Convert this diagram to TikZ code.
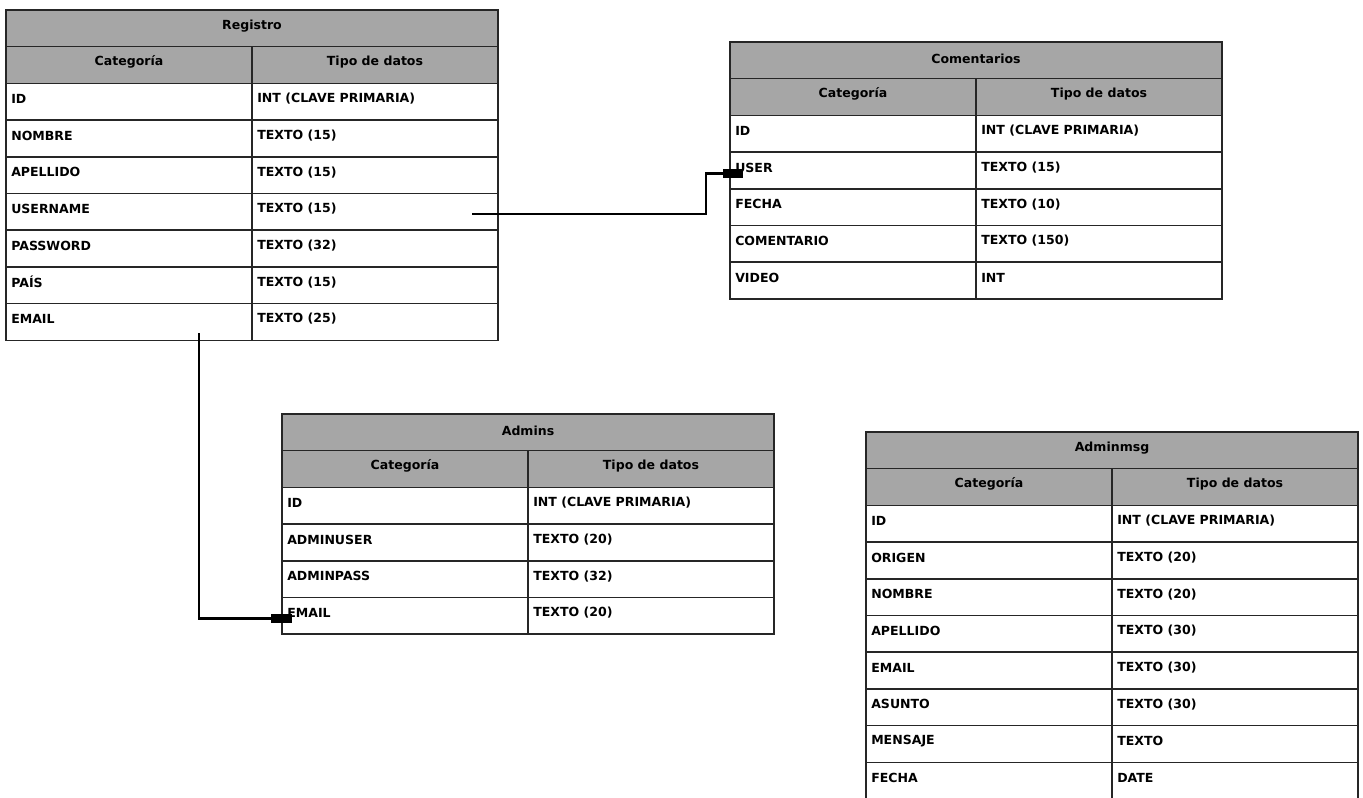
\documentclass[tikz,border=0pt]{standalone}
\usepackage{fontspec}
\setmainfont{DejaVu Sans}
\usetikzlibrary{calc}
\definecolor{cabgris}{HTML}{A6A6A6}
\tikzset{
  borde/.style={draw=black!85, line width=1.1pt},
  texto/.style={inner sep=0pt, font=\fontsize{9.4}{11}\selectfont\bfseries},
  campo/.style={texto, anchor=west},
  conector/.style={line width=2.2pt, black},
}
\newcommand{\tw}{492}
\newcommand{\rh}{36.7}
% tabla: nombre, origen, filas, titulo, lista campo/tipo
\newcommand{\tabla}[5]{%
  \begin{scope}[shift={(#2)}]
  \fill[cabgris] (0,0) rectangle (\tw,2*\rh);
  \draw[borde] (0,0) rectangle (\tw,{(#3+2)*\rh});
  \draw[borde] (0,\rh) -- (\tw,\rh);
  \draw[borde] (0,2*\rh) -- (\tw,2*\rh);
  \draw[borde] (\tw/2,\rh) -- (\tw/2,{(#3+2)*\rh});
  \node[texto] (#1) at (\tw/2,0.5*\rh-2) {#4};
  \node[texto] (#1-cat) at (\tw/4,1.5*\rh-3) {Categoría};
  \node[texto] (#1-tip) at (3*\tw/4,1.5*\rh-3) {Tipo de datos};
  \foreach \campo/\tipo [count=\i] in {#5} {
    \node[campo] (#1-c\i) at (5,{(\i+1.5)*\rh-3}) {\campo};
    \node[campo] (#1-t\i) at (\tw/2+5,{(\i+1.5)*\rh-3}) {\tipo};
    \coordinate (#1-l\i) at (0,{(\i+1.5)*\rh+3});
    \draw[borde] (0,{(\i+2)*\rh}) -- (\tw,{(\i+2)*\rh});
  }
  \end{scope}}
\begin{document}
\begin{tikzpicture}[x=0.75pt, y=-0.75pt]
\useasboundingbox (0,0) rectangle (1363,797);

\tabla{reg}{6,10}{7}{Registro}{ID/INT (CLAVE PRIMARIA), NOMBRE/TEXTO (15),
  APELLIDO/TEXTO (15), USERNAME/TEXTO (15), PASSWORD/TEXTO (32),
  PAÍS/TEXTO (15), EMAIL/TEXTO (25)}
\tabla{com}{730,42}{5}{Comentarios}{ID/INT (CLAVE PRIMARIA), USER/TEXTO (15),
  FECHA/TEXTO (10), COMENTARIO/TEXTO (150), VIDEO/INT}
\tabla{adm}{282,414}{4}{Admins}{ID/INT (CLAVE PRIMARIA), ADMINUSER/TEXTO (20),
  ADMINPASS/TEXTO (32), EMAIL/TEXTO (20)}
\tabla{msg}{866,432}{8}{Adminmsg}{ID/INT (CLAVE PRIMARIA), ORIGEN/TEXTO (20),
  NOMBRE/TEXTO (20), APELLIDO/TEXTO (30), EMAIL/TEXTO (30),
  ASUNTO/TEXTO (30), MENSAJE/TEXTO, FECHA/DATE}

% relaciones
\coordinate (reg-sal1) at (472,214);
\coordinate (reg-sal2) at (199,333);
\draw[conector] (reg-sal1) -- ++(234,0) |- (com-l2);
\fill (com-l2) ++(-7,-4.5) rectangle ++(20,9);
\draw[conector] (reg-sal2) |- (adm-l4);
\fill (adm-l4) ++(-11,-4.5) rectangle ++(21,9);
\end{tikzpicture}
\end{document}
